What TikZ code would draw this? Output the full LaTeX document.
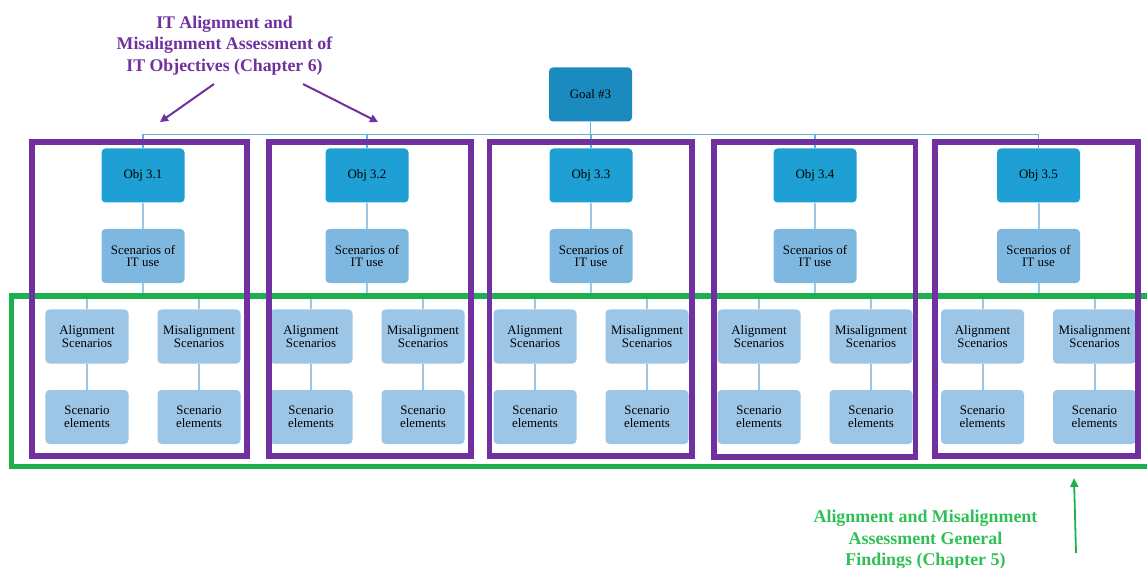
\documentclass[tikz,border=0pt]{standalone}
\usepackage{fontspec}
\setmainfont{Liberation Serif}
\usetikzlibrary{arrows.meta}
\definecolor{goalc}{RGB}{27,138,190}
\definecolor{objc}{RGB}{31,160,213}
\definecolor{scenc}{RGB}{126,184,224}
\definecolor{alc}{RGB}{157,197,230}
\definecolor{connc}{RGB}{157,197,230}
\definecolor{busc}{RGB}{95,178,222}
\definecolor{purp}{RGB}{112,48,160}
\definecolor{grn}{RGB}{30,176,78}
\definecolor{grntext}{RGB}{46,192,84}
\begin{document}
\begin{tikzpicture}[x=1bp,y=-1bp,
  box/.style={rounded corners=4bp, minimum width=83bp, minimum height=54bp, inner sep=0pt, align=center, text=black, font=\fontsize{12.9bp}{12.6bp}\selectfont},
  goalbox/.style={box, fill=goalc},
  objbox/.style={box, fill=objc},
  scenbox/.style={box, fill=scenc},
  albox/.style={box, fill=alc},
  conn/.style={draw=connc, line width=2bp},
  busline/.style={draw=busc, line width=1.6bp},
  pframe/.style={draw=purp, line width=5.5bp},
  gframe/.style={draw=grn, line width=5bp},
  ptitle/.style={text=purp, align=center, font=\bfseries\fontsize{17.8bp}{21.5bp}\selectfont},
  gtitle/.style={text=grntext, align=center, font=\bfseries\fontsize{17.9bp}{21.5bp}\selectfont},
  parrow/.style={draw=purp, line width=2bp, -{Triangle[length=8bp,width=8bp]}},
  garrow/.style={draw=grn, line width=1.8bp, -{Triangle[length=9bp,width=8bp]}}
]
\useasboundingbox (0,0) rectangle (1147,568);

\node[goalbox] (goal) at (590.5,94.5) {Goal \#3};

\foreach \i/\cx in {1/143,2/367,3/591,4/815,5/1038.5}{
  \node[objbox] (o\i) at (\cx,175.5) {Obj 3.\i};
  \node[scenbox] (s\i) at (\cx,256) {Scenarios of\\IT use};
  \node[albox] (a\i) at (\cx-56,336.5) {Alignment\\Scenarios};
  \node[albox] (m\i) at (\cx+56,336.5) {Misalignment\\Scenarios};
  \node[albox] (e\i) at (\cx-56,417) {Scenario\\elements};
  \node[albox] (f\i) at (\cx+56,417) {Scenario\\elements};
  \draw[busline] (goal.south) -- ++(0,13) -| (o\i.north);
  \draw[conn] (o\i) -- (s\i);
  \draw[conn] (s\i.south) -- ++(0,15) -| (a\i.north);
  \draw[conn] (s\i.south) -- ++(0,15) -| (m\i.north);
  \draw[conn] (a\i) -- (e\i);
  \draw[conn] (m\i) -- (f\i);
}

% green frame (open to the right edge)
\draw[gframe] (1147,296) -- (11,296) -- (11,466) -- (1147,466);

% purple frames
\draw[pframe] (32,142) rectangle (247,456);
\draw[pframe] (269,142) rectangle (471,456);
\draw[pframe] (489.5,142) rectangle (692,456);
\draw[pframe] (714,142) rectangle (915.5,457);
\draw[pframe] (935,142) rectangle (1138,456);

% titles
\node[ptitle] (pt) at (224.5,45.5) {IT Alignment and\\Misalignment Assessment of\\IT Objectives (Chapter 6)};
\node[gtitle] (gt) at (925.5,540) {Alignment and Misalignment\\Assessment General\\Findings (Chapter 5)};

\coordinate (pa1s) at (214,84);
\coordinate (pa1e) at (160,122);
\coordinate (pa2s) at (303,84);
\coordinate (pa2e) at (378,122);
\coordinate (gas) at (1076,553);
\coordinate (gae) at (1074,478);
\draw[parrow] (pa1s) -- (pa1e);
\draw[parrow] (pa2s) -- (pa2e);
\draw[garrow] (gas) -- (gae);
\end{tikzpicture}
\end{document}
